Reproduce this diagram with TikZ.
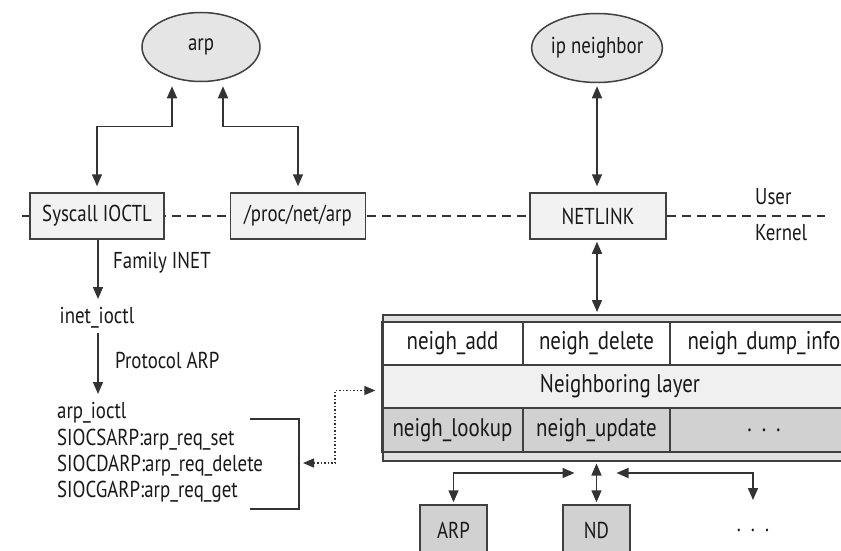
\documentclass[tikz,border=0pt]{standalone}
\usepackage{fontspec}
\setmainfont{PT Sans}[FakeStretch=0.82]
\usetikzlibrary{arrows.meta,calc,shapes.geometric}
\begin{document}
\begin{tikzpicture}[x=1pt,y=-1pt,
  every node/.style={font=\fontsize{23}{26}\selectfont, text=black!90},
  ln/.style={draw=black!80, line width=1.5pt},
  tipa/.style={-{Triangle[length=12pt,width=10pt]}},
  dbl/.style={ln, {Triangle[length=12pt,width=10pt]}-{Triangle[length=12pt,width=10pt]}},
  dotarr/.style={draw=black!80, line width=1.4pt, dash pattern=on 1.5pt off 2pt,
    {Triangle[length=11pt,width=9pt]}-{Triangle[length=11pt,width=9pt]}},
  ubox/.style={draw=black!75, line width=1.5pt, fill=black!5, minimum height=46pt, inner sep=0pt},
  oval/.style={ellipse, draw=black!75, line width=1.5pt, fill=black!10, inner sep=0pt},
  cell/.style={draw=black!75, line width=1.3pt, inner sep=0pt, font=\fontsize{25.5}{26}\selectfont},
  gbox/.style={draw=black!75, line width=1.5pt, fill=black!18, inner sep=0pt},
  lbl/.style={anchor=west, inner sep=0pt},
  txt/.style={anchor=base west, inner sep=0pt},
]
\useasboundingbox (0,0) rectangle (841,551);
\clip (0,0) rectangle (841,551);
\fill[white] (0,0) rectangle (841,551);

% user/kernel boundary
\coordinate (dl) at (22,216);
\coordinate (dr) at (825,216);
\draw[draw=black!80, line width=1.3pt, dash pattern=on 9pt off 6pt] (dl) -- (dr);

% user space programs
\node[oval, minimum width=118pt, minimum height=69pt] (arp) at (201,47) {arp};
\node[oval, minimum width=120pt, minimum height=69pt] (ipn) at (597,48) {ip neighbor};

% boundary boxes
\node[ubox, minimum width=134pt] (sys) at (97,216) {Syscall IOCTL};
\node[ubox, minimum width=135pt] (proc) at (298,216) {/proc/net/arp};
\node[ubox, minimum width=136pt] (net) at (598,216) {NETLINK};
\node[lbl] (user) at (755,197) {User};
\node[lbl] (kern) at (755,233) {Kernel};

% connectors user side
\draw[dbl] ($(arp.south)+(-29,4)$) -- ++(0,40) -| ($(sys.north)+(0,-6)$);
\draw[dbl] ($(arp.south)+(22,4)$) -- ++(0,40) -| ($(proc.north)+(0,-6)$);
\draw[dbl] ($(ipn.south)+(0,3)$) -- ($(ipn.south |- net.north)+(0,-6)$);

% left kernel chain
\node (inet) at (97,318) {inet\_ioctl};
\node[lbl] (fam) at (113,263) {Family INET};
\node[lbl] (prot) at (115,360) {Protocol ARP};
\node[txt] (l1) at (57,418) {arp\_ioctl};
\node[txt] (l2) at (57,445) {SIOCSARP:arp\_req\_set};
\node[txt] (l3) at (57,471) {SIOCDARP:arp\_req\_delete};
\node[txt] (l4) at (57,497) {SIOCGARP:arp\_req\_get};
\draw[ln, tipa] ($(sys.south)+(1,0)$) -- ($(inet.center)+(1,-19)$);
\draw[ln, tipa] ($(inet.center)+(1,15)$) -- ($(l1.base west)+(41,-24)$);

% bracket
\coordinate (bt) at (250,419);
\coordinate (bb) at (250,509);
\coordinate (brk) at (299,463);
\draw[ln] (bt) -| (bb -| brk) -- (bb);

% neighbouring table
\fill[black!12] (382,314) rectangle (870,322);
\fill[black!12] (382,452) rectangle (870,460);
\node[cell, fill=white, minimum width=141pt, minimum height=43pt] (add) at (452.5,343.5) {neigh\_add};
\node[cell, fill=white, minimum width=147pt, minimum height=43pt] (del) at (596.5,343.5) {neigh\_delete};
\node[cell, fill=white, minimum width=188pt, minimum height=43pt] (dump) at (764,343.5) {neigh\_dump\_info};
\node[cell, fill=black!6, minimum width=476pt, minimum height=43pt] (layer) at (620,386.5) {Neighboring layer};
\node[cell, fill=black!18, minimum width=141pt, minimum height=44pt] (look) at (452.5,430) {neigh\_lookup};
\node[cell, fill=black!18, minimum width=147pt, minimum height=44pt] (upd) at (596.5,430) {neigh\_update};
\node[cell, fill=black!18, minimum width=188pt, minimum height=44pt] (tdots) at (764,430) {.\hspace{10pt}.\hspace{10pt}.};
\node[draw=black!75, line width=1.5pt, minimum width=488pt, minimum height=146pt, inner sep=0pt, anchor=north west] (tbl) at (382,314) {};
\draw[draw=black!75, line width=1.3pt] (382,322) -- (870,322);
\draw[draw=black!75, line width=1.3pt] (382,452) -- (870,452);

% netlink to table
\draw[dbl] ($(net.south)+(-1,2)$) -- ($(net.south |- tbl.north)+(-1,-2)$);

% dotted link arp_ioctl <-> neighbouring layer
\draw[dotarr] ($(brk)+(4,0)$) -- ++(32,0) |- ($(layer.west)+(-6,4)$);

% protocols
\node[gbox, minimum width=67pt, minimum height=50pt] (arpb) at (453.5,530) {ARP};
\node[gbox, minimum width=67pt, minimum height=50pt] (nd) at (596.5,530) {ND};
\node (more) at (753,530) {.\hspace{10pt}.\hspace{10pt}.};
\coordinate (hub) at (596.5,473);
\draw[dbl] ($(tbl.south -| nd.north)+(0,2)$) -- ($(nd.north)+(0,-2)$);
\draw[dbl] ($(hub)+(-22,0)$) -| ($(arpb.north)+(0,-2)$);
\draw[dbl] ($(hub)+(20,0)$) -| ($(more.center)+(0,-30)$);
\end{tikzpicture}
\end{document}
